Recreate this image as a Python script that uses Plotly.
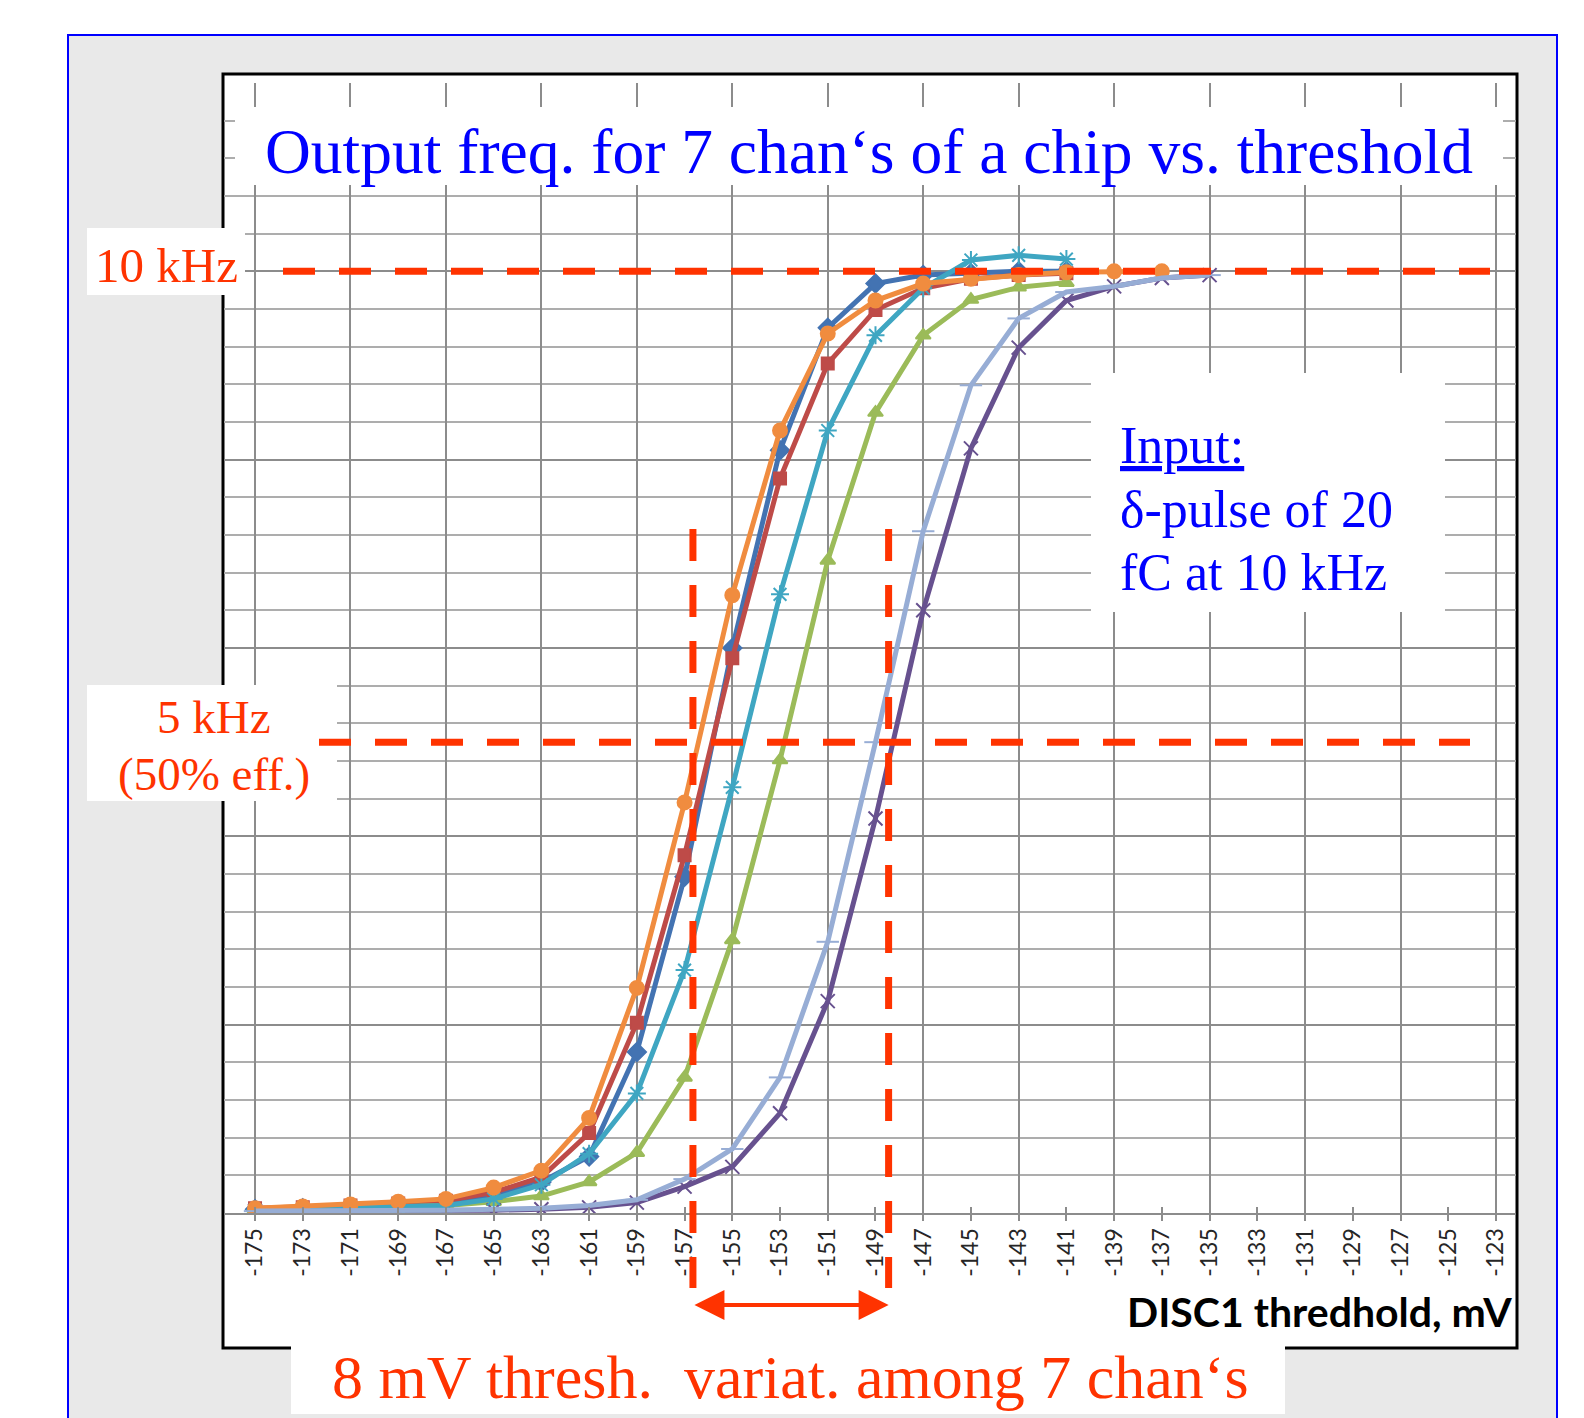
import plotly.graph_objects as go

# ---------------- data ----------------
x_mv = [-175, -173, -171, -169, -167, -165, -163, -161, -159, -157, -155,
        -153, -151, -149, -147, -145, -143, -141, -139, -137, -135]

tick_mv = [-175, -173, -171, -169, -167, -165, -163, -161, -159, -157, -155,
           -153, -151, -149, -147, -145, -143, -141, -139, -137, -135, -133,
           -131, -129, -127, -125, -123]

# output frequency in kHz
ch1 = [0.04, 0.05, 0.06, 0.08, 0.10, 0.18, 0.33, 0.60, 1.71, 3.57, 6.00,
       8.10, 9.40, 9.87, 9.96, 9.98, 10.0, 10.0]
ch2 = [0.05, 0.06, 0.08, 0.10, 0.13, 0.22, 0.38, 0.85, 2.02, 3.80, 5.89,
       7.80, 9.02, 9.59, 9.82, 9.92, 9.96, 9.98]
ch3 = [0.03, 0.04, 0.05, 0.06, 0.08, 0.12, 0.18, 0.33, 0.64, 1.44, 2.90,
       4.81, 6.93, 8.50, 9.32, 9.70, 9.83, 9.88]
ch4 = [0.02, 0.02, 0.02, 0.02, 0.03, 0.03, 0.04, 0.06, 0.11, 0.28, 0.49,
       1.06, 2.25, 4.19, 6.40, 8.12, 9.19, 9.69, 9.84, 9.93, 9.96]
ch5 = [0.03, 0.04, 0.05, 0.06, 0.08, 0.15, 0.30, 0.63, 1.27, 2.58, 4.52,
       6.57, 8.31, 9.32, 9.82, 10.12, 10.17, 10.13]
ch6 = [0.05, 0.07, 0.09, 0.12, 0.15, 0.27, 0.45, 1.01, 2.39, 4.36, 6.56,
       8.31, 9.34, 9.69, 9.87, 9.92, 9.96, 9.99, 10.0, 10.0]
ch7 = [0.02, 0.02, 0.02, 0.03, 0.03, 0.04, 0.05, 0.08, 0.14, 0.36, 0.68,
       1.44, 2.88, 5.00, 7.24, 8.79, 9.50, 9.78, 9.84, 9.93, 9.96]

F_FULL = 10.0      # kHz
F_HALF = 5.0       # kHz (50% eff.)
THR_LO = -156.65   # mV
THR_HI = -148.45   # mV

# ---------------- geometry helpers (page pixel coordinates) ----------------
PAGE_W, PAGE_H = 1584, 1418
OFF = 8                      # default body margin of the html page
W, H = PAGE_W - OFF, PAGE_H - OFF
L, R, T, B = 224, 1516, 83, 1213   # plot area on the page
XR = [-176.30, -122.16]
YR = [0, 12]


def px(X):
    return (X - L) / (R - L)


def py(Y):
    return (B - Y) / (B - T)


def vx(X):  # page pixel -> data x
    return XR[0] + (X - L) / (R - L) * (XR[1] - XR[0])


RED = "#FF3300"
BLUE = "#0000FF"
SERIF = "Liberation Serif"

fig = go.Figure()

series = [
    (ch1, "#4373B2", "diamond", 14),
    (ch2, "#BE4B48", "square", 12),
    (ch3, "#9BBB59", "triangle-up", 13),
    (ch4, "#67518F", "x-thin", 14),
    (ch5, "#3FA6C2", "asterisk", 15),
    (ch6, "#F08C3F", "circle", 14),
    (ch7, "#97ADD5", "line-ew", 16),
]
for i, (ys, col, sym, sz) in enumerate(series):
    fig.add_trace(go.Scatter(
        x=x_mv[:len(ys)], y=ys, mode="lines+markers",
        name=f"chan {i + 1}",
        line=dict(color=col, width=5),
        marker=dict(symbol=sym, size=sz, color=col,
                    line=dict(color=col, width=2)),
        showlegend=False, hoverinfo="x+y",
    ))

# helper trace for the overlay grid axis
fig.add_trace(go.Scatter(x=[None], y=[None], xaxis="x2", showlegend=False,
                         hoverinfo="skip"))

shapes = []
# outer grey frame with blue border
shapes.append(dict(type="rect", xref="paper", yref="paper",
                   x0=px(68), x1=px(1557), y0=py(35), y1=py(1440),
                   fillcolor="#E9E9E9", line=dict(color=BLUE, width=2),
                   layer="below"))
# chart area
shapes.append(dict(type="rect", xref="paper", yref="paper",
                   x0=px(223), x1=px(1517), y0=py(74), y1=py(1348),
                   fillcolor="white", line=dict(color="black", width=3),
                   layer="below"))
# white text boxes
for (x0, y0, x1, y1) in [(235, 107, 1503, 185), (87, 228, 245, 295),
                         (87, 685, 337, 801), (1091, 373, 1445, 612),
                         (291, 1335, 1285, 1414)]:
    shapes.append(dict(type="rect", xref="paper", yref="paper",
                       x0=px(x0), x1=px(x1), y0=py(y0), y1=py(y1),
                       fillcolor="white", line=dict(width=0), layer="above"))
dash = "32px,24px"
shapes.append(dict(type="line", xref="x", yref="y", x0=vx(283), x1=vx(1490),
                   y0=F_FULL, y1=F_FULL, line=dict(color=RED, width=7, dash=dash),
                   layer="above"))
shapes.append(dict(type="line", xref="x", yref="y", x0=vx(319), x1=vx(1470),
                   y0=F_HALF, y1=F_HALF, line=dict(color=RED, width=7, dash=dash),
                   layer="above"))
for xv in (THR_LO, THR_HI):
    shapes.append(dict(type="line", xref="x", yref="paper", x0=xv, x1=xv,
                       y0=py(529), y1=py(1288),
                       line=dict(color=RED, width=7, dash=dash), layer="above"))

annotations = []


def text(t, X, Y, size, color, anchor="left", family=SERIF, weight=None):
    annotations.append(dict(text=t, xref="paper", yref="paper", x=px(X), y=py(Y),
                            xanchor=anchor, yanchor="middle", showarrow=False,
                            font=dict(family=family, size=size, color=color,
                                      weight=weight)))


text("Output freq. for 7 chan\u2018s of a chip vs. threshold", 263, 151, 63.5, BLUE)
text("10 kHz", 166, 265, 49, RED, anchor="center")
text("5 kHz", 214, 717, 47, RED, anchor="center")
text("(50% eff.)", 214, 774, 47, RED, anchor="center")
text("<u>Input:</u>", 1118, 445, 52, BLUE)
text("\u03b4-pulse of 20", 1118, 509, 52, BLUE)
text("fC at 10 kHz", 1118, 572, 52, BLUE)
text("8 mV thresh.  variat. among 7 chan\u2018s", 330, 1377, 62, RED)
text("DISC1 thredhold, mV", 1514, 1311, 41, "black", anchor="right",
     family="Lato", weight="bold")

# double-headed arrow between the two thresholds
annotations.append(dict(x=THR_HI, y=py(1305), ax=THR_LO, ay=0,
                        xref="x", yref="paper", axref="x", ayref="pixel",
                        text="", showarrow=True, arrowhead=2,
                        arrowside="end+start", arrowwidth=4, arrowsize=1.5,
                        arrowcolor=RED))

GRID = "#8C8C8C"
fig.update_layout(
    width=W, height=H,
    margin=dict(l=L - OFF, r=PAGE_W - R, t=T - OFF, b=PAGE_H - B),
    paper_bgcolor="white", plot_bgcolor="white",
    showlegend=False,
    xaxis=dict(range=XR, tickmode="array", tickvals=tick_mv,
               ticktext=[str(v) for v in tick_mv], tickangle=-90,
               ticks="outside", ticklen=6, tickwidth=1.5, tickcolor=GRID,
               showgrid=False, zeroline=False, showline=True,
               linecolor=GRID, linewidth=2, ticklabelstandoff=-2,
               tickfont=dict(family="Lato", size=23, color="#262626")),
    xaxis2=dict(range=XR, overlaying="x", anchor="y", side="bottom",
                tickmode="linear", tick0=-175, dtick=4, showgrid=True,
                gridcolor=GRID, gridwidth=2, showticklabels=False,
                ticks="inside", ticklen=6, tickwidth=1.5, tickcolor=GRID,
                zeroline=False,
                minor=dict(tick0=-175, dtick=2, ticks="inside", ticklen=6,
                           tickwidth=1.5, tickcolor=GRID, showgrid=False)),
    yaxis=dict(range=YR, tick0=0, dtick=2, showgrid=True, gridcolor=GRID,
               gridwidth=2, showticklabels=False, ticks="", zeroline=False,
               minor=dict(tick0=0, dtick=0.4, showgrid=True,
                          gridcolor="#ADADAD", gridwidth=1.5)),
    shapes=shapes, annotations=annotations,
)

fig.write_html("out.html")
